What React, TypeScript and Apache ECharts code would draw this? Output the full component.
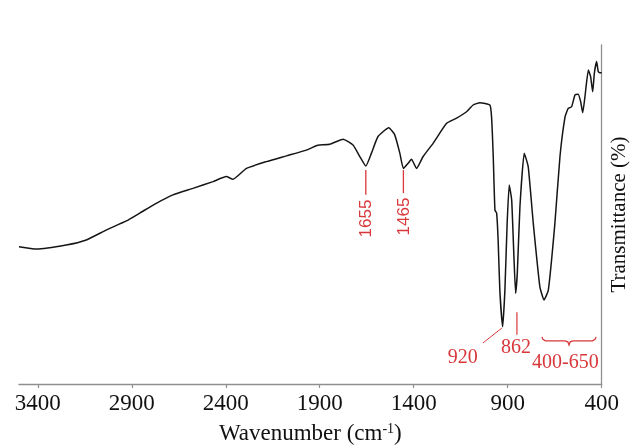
import React, { useEffect, useRef } from 'react';
import * as echarts from 'echarts';

// IR spectrum (wavenumber in cm-1, transmittance in arbitrary %)
const wavenumber = [
  3500, 3408, 3249, 3142, 3036, 2929, 2858, 2770, 2681, 2575, 2468, 2397, 2362, 2290, 2184, 2077,
  1971, 1918, 1900, 1847, 1776, 1723, 1687, 1655, 1625, 1590, 1533, 1501, 1474, 1455, 1430, 1412,
  1385, 1350, 1297, 1225, 1172, 1119, 1084, 1048, 995, 986, 977, 968, 959, 951, 942, 927, 915, 903,
  892, 879, 867, 858, 849, 835, 812, 791, 764, 729, 707, 684, 649, 622, 595, 578, 560, 542, 525,
  512, 501, 489, 471, 459, 448, 439, 427, 418, 409, 400,
];
const transmittance = [
  40.5, 39.8, 41.0, 42.5, 45.4, 48.1, 50.4, 53.3, 55.8, 57.7, 59.7, 61.2, 60.4, 63.6, 65.6, 67.3,
  69.0, 70.3, 70.5, 70.7, 72.2, 70.5, 67.1, 64.3, 68.1, 73.0, 75.6, 73.5, 68.1, 63.6, 65.1, 66.3,
  63.6, 67.1, 71.0, 76.9, 78.4, 80.3, 82.3, 83.0, 82.3, 78.8, 67.1, 51.3, 50.4, 42.5, 27.7, 16.9,
  27.7, 47.4, 58.7, 54.3, 37.6, 26.8, 32.7, 52.3, 68.1, 64.1, 47.4, 28.7, 24.8, 27.7, 47.4, 67.1,
  78.8, 81.3, 81.8, 85.3, 85.5, 83.3, 80.0, 84.8, 92.6, 90.7, 86.2, 91.7, 95.1, 92.1, 91.8, 91.8,
];
const tickValues = [3400, 2900, 2400, 1900, 1400, 900, 400];

// Peak annotations (data coordinates)
const vLabels = ['1655', '1465'];
const vLabelWn = [1655, 1455];
const vLineTop = [63.1, 63.1];
const vLineBottom = [55.8, 56.3];
const vLabelCenter = [48.8, 49.4];

const label920 = '920';
const line920 = [[1032, 12.1], [931, 16.5]];
const text920 = [1139, 8.4];

const label862 = '862';
const line862 = [[851, 21.2], [851, 14.5]];
const text862 = [856, 11.2];

const labelRange = '400-650';
const braceEnds = [718, 430];
const braceTop = 13.9;
const textRange = [593, 6.8];

const RED = '#d8383b';
const AXIS = '#8f8f8f';
const SERIF = '"Liberation Serif", "Times New Roman", serif';

export default function App() {
  const ref = useRef<HTMLDivElement>(null);

  useEffect(() => {
    const chart = echarts.init(ref.current!, null, { renderer: 'svg' });
    const data = wavenumber.map((w, i) => [w, transmittance[i]]);
    chart.setOption({
      animation: false,
      grid: { left: 19, right: 29.3, top: 45, bottom: 64, containLabel: false, outerBoundsMode: 'none' },
      xAxis: {
        type: 'value',
        inverse: true,
        min: 400,
        max: 3500,
        interval: 500,
        axisLine: { onZero: false, lineStyle: { color: AXIS, width: 1.3 } },
        axisTick: { show: true, length: 4, inside: false, customValues: tickValues, lineStyle: { color: AXIS, width: 1.2 } },
        axisLabel: {
          customValues: tickValues,
          formatter: (v: number) => String(v),
          color: '#111',
          fontFamily: SERIF,
          fontSize: 23,
          margin: 7,
        },
        splitLine: { show: false },
        name: '{a|Wavenumber (cm}{s|-1}{a|)}',
        nameLocation: 'middle',
        nameGap: 37,
        nameTextStyle: {
          color: '#111',
          fontFamily: SERIF,
          fontSize: 23,
          rich: {
            a: { color: '#111', fontFamily: SERIF, fontSize: 23 },
            s: { color: '#111', fontFamily: SERIF, fontSize: 14, verticalAlign: 'top' },
          },
        },
      },
      yAxis: {
        type: 'value',
        position: 'right',
        min: 0,
        max: 100,
        axisLine: { show: true, onZero: false, lineStyle: { color: AXIS, width: 1.3 } },
        axisTick: { show: false },
        axisLabel: { show: false },
        splitLine: { show: false },
        name: 'Transmittance (%)',
        nameLocation: 'middle',
        nameRotate: 90,
        nameGap: 6,
        nameTextStyle: { color: '#111', fontFamily: SERIF, fontSize: 21, verticalAlign: 'top' },
      },
      series: [
        {
          type: 'line',
          data,
          symbol: 'none',
          smooth: 0.15,
          lineStyle: { color: '#151515', width: 1.5 },
        },
      ],
    });

    const px = (w: number, v: number) => chart.convertToPixel({ gridIndex: 0 }, [w, v]) as number[];
    const graphics: any[] = [];
    vLabels.forEach((t, i) => {
      const a = px(vLabelWn[i], vLineTop[i]);
      const b = px(vLabelWn[i], vLineBottom[i]);
      const c = px(vLabelWn[i], vLabelCenter[i]);
      graphics.push({ type: 'line', shape: { x1: a[0], y1: a[1], x2: b[0], y2: b[1] }, style: { stroke: RED, lineWidth: 1.3 } });
      graphics.push({
        type: 'text', x: c[0], y: c[1], rotation: Math.PI / 2,
        style: { text: t, fill: RED, font: '17px "Liberation Sans", Arial, sans-serif', align: 'center', verticalAlign: 'middle' },
      });
    });
    const l1 = px(line920[0][0], line920[0][1]);
    const l2 = px(line920[1][0], line920[1][1]);
    graphics.push({ type: 'line', shape: { x1: l1[0], y1: l1[1], x2: l2[0], y2: l2[1] }, style: { stroke: RED, lineWidth: 1 } });
    const t1 = px(text920[0], text920[1]);
    graphics.push({ type: 'text', x: t1[0], y: t1[1], style: { text: label920, fill: RED, font: `20px ${SERIF}`, align: 'center', verticalAlign: 'middle' } });
    const m1 = px(line862[0][0], line862[0][1]);
    const m2 = px(line862[1][0], line862[1][1]);
    graphics.push({ type: 'line', shape: { x1: m1[0], y1: m1[1], x2: m2[0], y2: m2[1] }, style: { stroke: RED, lineWidth: 1.2 } });
    const t2 = px(text862[0], text862[1]);
    graphics.push({ type: 'text', x: t2[0], y: t2[1], style: { text: label862, fill: RED, font: `20px ${SERIF}`, align: 'center', verticalAlign: 'middle' } });
    // brace
    const bl = px(braceEnds[0], braceTop);
    const br = px(braceEnds[1], braceTop);
    const x1 = bl[0], x2 = br[0], y0 = bl[1], xm = (x1 + x2) / 2;
    graphics.push({
      type: 'polyline',
      shape: {
        points: [
          [x1, y0], [x1 + 1, y0 + 2.5], [x1 + 3.5, y0 + 4], [xm - 4, y0 + 4], [xm - 1.2, y0 + 5],
          [xm, y0 + 8], [xm + 1.2, y0 + 5], [xm + 4, y0 + 4], [x2 - 3.5, y0 + 4], [x2 - 1, y0 + 2.5], [x2, y0],
        ],
      },
      style: { stroke: RED, lineWidth: 1.3, fill: 'none' },
    });
    const t3 = px(textRange[0], textRange[1]);
    graphics.push({ type: 'text', x: t3[0], y: t3[1], style: { text: labelRange, fill: RED, font: `20px ${SERIF}`, align: 'center', verticalAlign: 'middle' } });

    chart.setOption({ graphic: graphics });

    return () => chart.dispose();
  }, []);

  return <div ref={ref} style={{ position: 'fixed', left: 0, top: 0, width: 631, height: 448 }} />;
}
